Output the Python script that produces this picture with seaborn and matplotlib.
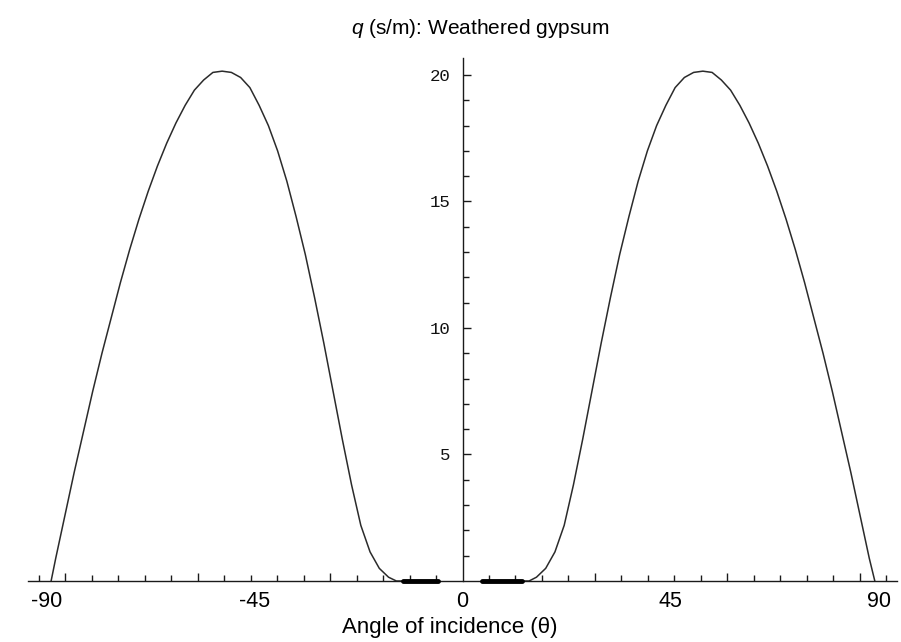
import numpy as np
import pandas as pd
import matplotlib
matplotlib.use("Agg")
import matplotlib.pyplot as plt
import seaborn as sns

# q (s/m) against angle of incidence (degrees), weathered gypsum
theta_left = [-89, -88, -86, -84, -82, -80, -78, -76, -74, -72, -70, -68, -66,
              -64, -62, -60, -58, -56, -54, -52, -50, -48, -46, -44, -42, -40,
              -38, -36, -34, -32, -30, -28, -26, -24, -22, -20, -18, -16,
              -14.3, -12.9, -5.4]
q_left = [0.0, 0.9, 2.6, 4.3, 5.9, 7.5, 9.0, 10.4, 11.8, 13.1, 14.3, 15.4, 16.4,
          17.3, 18.1, 18.8, 19.4, 19.8, 20.1, 20.15, 20.1, 19.9, 19.5, 18.8, 18.0,
          17.0, 15.8, 14.4, 12.9, 11.2, 9.4, 7.5, 5.6, 3.8, 2.2, 1.15, 0.5, 0.15,
          0.0, 0.0, 0.0]

theta_right = [4.3, 12.9, 14.4, 16, 18, 20, 22, 24, 26, 28, 30, 32, 34, 36, 38,
               40, 42, 44, 46, 48, 50, 52, 54, 56, 58, 60, 62, 64, 66, 68, 70,
               72, 74, 76, 78, 80, 82, 84, 86, 88, 89.2]
q_right = [0.0, 0.0, 0.0, 0.15, 0.5, 1.15, 2.2, 3.8, 5.6, 7.5, 9.4, 11.2, 12.9,
           14.4, 15.8, 17.0, 18.0, 18.8, 19.5, 19.9, 20.1, 20.15, 20.1, 19.8,
           19.4, 18.8, 18.1, 17.3, 16.4, 15.4, 14.3, 13.1, 11.8, 10.4, 9.0, 7.5,
           5.9, 4.3, 2.6, 0.9, 0.0]

x_tick_labels = [-90, -45, 0, 45, 90]
y_tick_values = [5, 10, 15, 20]

title_text = "(s/m): Weathered gypsum"
x_title = "Angle of incidence (\u03b8)"

sns.set_theme(style="white")
plt.rcParams["font.family"] = ["Liberation Sans", "DejaVu Sans"]
plt.rcParams["mathtext.fontset"] = "custom"
plt.rcParams["mathtext.it"] = "Liberation Sans:italic"
plt.rcParams["mathtext.rm"] = "Liberation Sans"

df = pd.concat([
    pd.DataFrame({"theta": theta_left, "q": q_left, "lobe": "left"}),
    pd.DataFrame({"theta": theta_right, "q": q_right, "lobe": "right"}),
], ignore_index=True)
flat = df[(df["q"] == 0) & (df["theta"].abs() < 13.5)]

fig = plt.figure(figsize=(9.01, 6.42), dpi=100)
ax = fig.add_axes([28 / 901, (642 - 581) / 642, 869 / 901, 523 / 642])

line_col = "#2b2b2b"
for lobe, part in df.groupby("lobe"):
    sns.lineplot(data=part, x="theta", y="q", ax=ax, sort=False, estimator=None,
                 color=line_col, linewidth=1.1, clip_on=False)
for lobe, part in flat.groupby("lobe"):
    sns.lineplot(data=part, x="theta", y="q", ax=ax, sort=False, estimator=None,
                 color="black", linewidth=3.5, clip_on=False, zorder=5)

ax.set_xlim(-94, 94)
ax.set_ylim(0, 20.67)

# axes cross at the origin
for side in ("top", "right"):
    ax.spines[side].set_visible(False)
ax.spines["left"].set_position(("data", 0))
for side in ("left", "bottom"):
    ax.spines[side].set_color("#1a1a1a")
    ax.spines[side].set_linewidth(1.0)

# x ticks every 0.1 rad, longer every 0.5 rad
rad_major = [-1.5, -1.0, -0.5, 0.5, 1.0, 1.5]
rad_minor = [r / 10 for r in range(-16, 17) if r != 0 and r % 5 != 0]
ax.set_xticks(np.rad2deg(rad_major))
ax.set_xticks(np.rad2deg(rad_minor), minor=True)
ax.tick_params(axis="x", which="both", bottom=True, top=False)
ax.tick_params(axis="x", which="major", direction="in", length=6, width=1.0,
               color="#1a1a1a", labelbottom=False)
ax.tick_params(axis="x", which="minor", direction="in", length=4, width=1.0,
               color="#1a1a1a")

ax.set_yticks(y_tick_values)
ax.set_yticks([v for v in range(1, 21) if v % 5 != 0], minor=True)
ax.set_yticklabels([str(v) for v in y_tick_values], family="Liberation Mono",
                   fontsize=12.5, color="#111111")
ax.tick_params(axis="y", which="both", left=True, right=False)
ax.tick_params(axis="y", which="major", direction="in", length=6, width=1.0,
               color="#1a1a1a", pad=8.5)
ax.tick_params(axis="y", which="minor", direction="in", length=4, width=1.0,
               color="#1a1a1a")
ax.set_xlabel("")
ax.set_ylabel("")

for v in x_tick_labels:
    ax.annotate(str(v), xy=(v, 0), xycoords=("data", "axes fraction"),
                xytext=(0, -7), textcoords="offset points", ha="center",
                va="top", fontsize=15.5, color="black", annotation_clip=False)

fig.text(480 / 901, 1 - 28 / 642, r"$q$ " + title_text, ha="center",
         va="center", fontsize=15, color="black")
fig.text(450 / 901, 1 - 627 / 642, x_title, ha="center", va="center",
         fontsize=16, color="black")

fig.savefig("out.png", dpi=100)
